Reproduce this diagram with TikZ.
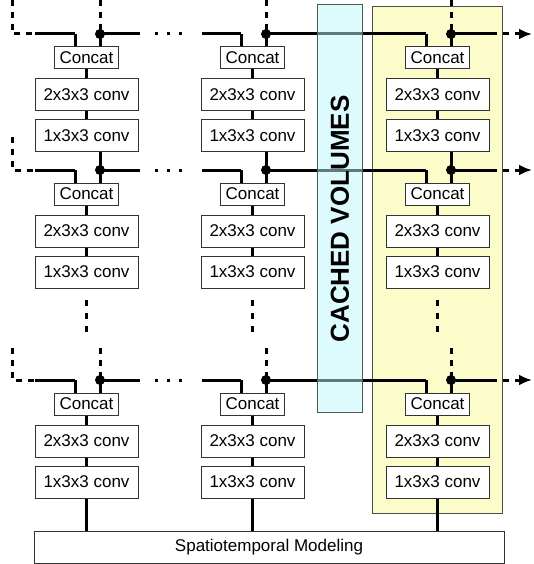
\documentclass[tikz,border=0pt]{standalone}
\usepackage{fontspec}
\setmainfont{Liberation Sans}
\usetikzlibrary{arrows.meta}
\definecolor{boxline}{HTML}{333333}
\definecolor{cachefill}{HTML}{BBF7F9}
\definecolor{cacheline}{HTML}{4E5A5A}
\definecolor{yelfill}{HTML}{FCFBCA}
\definecolor{yelline}{HTML}{4D4D40}
\tikzset{
  lbl/.style={font=\fontsize{17}{20}\selectfont, inner sep=0pt},
  catbox/.style={lbl, draw=boxline, line width=1pt, fill=white, minimum width=64pt, minimum height=22pt},
  convbox/.style={lbl, draw=boxline, line width=1pt, fill=white, minimum width=103pt, minimum height=32pt},
  wire/.style={line width=3pt},
  dwire/.style={line width=3pt, dash pattern=on 6pt off 6pt},
  vdots/.style={line width=3pt, dash pattern=on 6pt off 7pt},
  hdots/.style={line width=3pt, dash pattern=on 3pt off 9pt},
  junction/.style={circle, fill=black, inner sep=0pt, minimum size=10pt},
}
\begin{document}
\begin{tikzpicture}[x=1pt,y=-1pt]
\useasboundingbox (0,0) rectangle (533,564);
% highlighted column background
\node[draw=yelline, line width=1pt, fill=yelfill, minimum width=130pt, minimum height=506pt, inner sep=0pt] (yel) at (437,260) {};
% blocks
\foreach \c/\xc in {1/86.5, 2/252.5, 3/437.5}{
  \foreach \r/\L in {1/34, 2/170, 3/380}{
    \node[catbox] (cat\c\r) at (\xc,\L+24) {Concat};
    \node[convbox] (a\c\r) at (\xc,\L+61) {2x3x3 conv};
    \node[convbox] (b\c\r) at (\xc,\L+102) {1x3x3 conv};
    \draw[wire] (cat\c\r.south) -- (a\c\r.north);
    \draw[wire] (a\c\r.south) -- (b\c\r.north);
    \coordinate (d\c\r) at (\xc+13.5,\L);
    \coordinate (k\c\r) at (\xc-11.5,\L);
    \draw[wire] (d\c\r) -- (d\c\r |- cat\c\r.north);
    \draw[wire] (k\c\r) -- (k\c\r |- cat\c\r.north);
  }
  % links between rows
  \draw[wire] (b\c1.south -| d\c2) -- (d\c2);
  \coordinate (t\c) at (\xc+13.5,0);
  \draw[dwire] (t\c) -- (d\c1);
  \coordinate (e\c) at (\xc,300);
  \coordinate (f\c) at (\xc,336);
  \draw[vdots] (e\c) -- (f\c);
  \coordinate (g\c) at (\xc+13.5,348);
  \draw[dwire] (g\c) -- (d\c3);
}
% horizontal wires
\foreach \r/\L/\top in {1/34/0, 2/170/137, 3/380/348}{
  \coordinate (s\r) at (12,\top);
  \coordinate (sc\r) at (12,\L);
  \coordinate (sm\r) at (35,\L);
  \draw[dwire] (s\r) -- (sc\r) -- (sm\r);
  \draw[wire] (sm\r) -- (k1\r);
  \coordinate (o\r) at (140,\L);
  \draw[wire] (d1\r) -- (o\r);
  \coordinate (p\r) at (155,\L);
  \coordinate (q\r) at (186,\L);
  \draw[hdots] (p\r) -- (q\r);
  \coordinate (m\r) at (202,\L);
  \draw[wire] (m\r) -- (k2\r);
  \draw[wire] (d2\r) -- (k3\r);
  \coordinate (u\r) at (497,\L);
  \coordinate (v\r) at (515,\L);
  \coordinate (w\r) at (532,\L);
  \draw[wire] (d3\r) -- (u\r);
  \draw[dwire, dash phase=6pt] (u\r) -- (v\r);
  \draw[line width=3pt, -{Latex[length=13pt,width=11pt]}] (v\r) -- (w\r);
  \foreach \c in {1,2,3}{\node[junction] at (d\c\r) {};}
}
% output block
\node[lbl, draw=boxline, line width=1pt, fill=white, minimum width=470pt, minimum height=32pt] (sp) at (269,547) {Spatiotemporal Modeling};
\foreach \c in {1,2,3}{\draw[wire] (b\c3.south) -- (b\c3.south |- sp.north);}
% cached volumes
\node[draw=cacheline, line width=1pt, fill=cachefill, fill opacity=0.5, text opacity=1, minimum width=45pt, minimum height=407pt, inner sep=0pt] (cache) at (339.5,208.5) {};
\node[font=\bfseries\fontsize{26}{30}\selectfont, rotate=90, inner sep=0pt] (cachetxt) at (340,219) {CACHED VOLUMES};
\end{tikzpicture}
\end{document}
